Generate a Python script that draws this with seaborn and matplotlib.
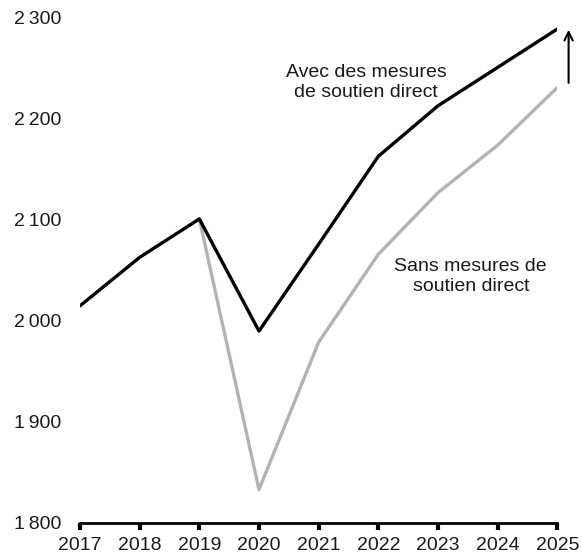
import numpy as np
import pandas as pd
import seaborn as sns
import matplotlib.pyplot as plt

years = [2017, 2018, 2019, 2020, 2021, 2022, 2023, 2024, 2025]
avec = [2015, 2063, 2101, 1990, 2076, 2163, 2213, 2251, 2289]
sans_years = [2019, 2020, 2021, 2022, 2023, 2024, 2025]
sans = [2101, 1833, 1979, 2066, 2127, 2174, 2231]
yticks = [1800, 1900, 2000, 2100, 2200, 2300]

sns.set_style("white")
plt.rcParams['font.family'] = ['Liberation Sans', 'DejaVu Sans']

fig = plt.figure(figsize=(5.82, 5.55), dpi=100)
ax = fig.add_axes([0.1375, 0.0577, 0.82, 0.91])

sns.lineplot(x=sans_years, y=sans, color='#b3b3b3', linewidth=2.4, ax=ax)
sns.lineplot(x=years, y=avec, color='black', linewidth=2.4, ax=ax)

ax.set_xlim(2017, 2025)
ax.set_ylim(1800, 2300)
ax.set_xticks(years)
ax.set_xticklabels([str(y) for y in years], fontsize=14, color='#1a1a1a')
ax.set_yticks(yticks)
ax.set_yticklabels([f"{v // 1000}\u2009{v % 1000:03d}" for v in yticks], fontsize=14, color='#1a1a1a')

for s in ['top', 'right', 'left']:
    ax.spines[s].set_visible(False)
ax.spines['bottom'].set_color('black')
ax.spines['bottom'].set_linewidth(2)
ax.tick_params(axis='x', bottom=True, length=5, width=3, color='black', pad=5)
ax.tick_params(axis='y', left=False, pad=10)

ax.text(2021.8, 2236, "Avec des mesures\nde soutien direct", ha='center', va='center', fontsize=14, color='#1a1a1a')
ax.text(2023.55, 2044, "Sans mesures de\nsoutien direct", ha='center', va='center', fontsize=14, color='#1a1a1a')

ax.annotate("", xy=(2025.19, 2291), xytext=(2025.19, 2233),
            arrowprops=dict(arrowstyle='->', color='black', lw=1.5, mutation_scale=15),
            annotation_clip=False)

fig.savefig("out.png", dpi=100)
